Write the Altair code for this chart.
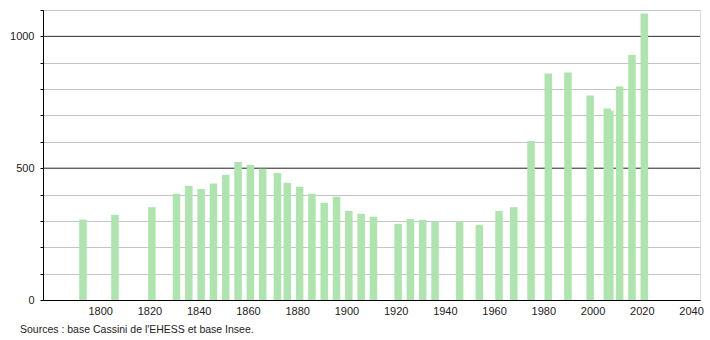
import altair as alt
import pandas as pd

years = [1793, 1806, 1821, 1831, 1836, 1841, 1846, 1851, 1856, 1861, 1866, 1872,
         1876, 1881, 1886, 1891, 1896, 1901, 1906, 1911, 1921, 1926, 1931, 1936,
         1946, 1954, 1962, 1968, 1975, 1982, 1990, 1999, 2006, 2007, 2011, 2016, 2021]
population = [305, 323, 352, 403, 433, 421, 442, 475, 523, 513, 498, 482,
              445, 430, 403, 369, 392, 338, 327, 316, 289, 307, 304, 299,
              299, 285, 338, 352, 603, 859, 863, 776, 726, 718, 810, 930, 1087]
x_ticks = list(range(1800, 2041, 20))
y_ticks = list(range(0, 1101, 100))
major_lines = [500, 1000]
source_text = ["Sources : base Cassini de l'EHESS et base Insee."]

FONT = "Liberation Sans"
BAR = "#aee4ae"

df = pd.DataFrame({"year": years, "pop": population})

x_scale = alt.Scale(domain=[1778.8, 2041.6], nice=False, zero=False)
x_axis = alt.Axis(values=x_ticks, format="d", ticks=False, grid=False,
                  domain=True, domainColor="#000", domainWidth=1, labelFont=FONT,
                  labelFontSize=11, labelColor="#222", labelPadding=5,
                  title=None, labelFlush=False, labelOverlap=False)
y_scale = alt.Scale(domain=[0, 1100], nice=False)
y_axis = alt.Axis(values=y_ticks, format="d",
                  labelExpr="datum.value % 500 == 0 ? datum.label : ''",
                  labelOverlap=False,
                  grid=True, gridColor="#c4c4c4", gridWidth=1,
                  ticks=True, tickSize=3, tickColor="#000", tickWidth=1,
                  domain=True, domainColor="#000", domainWidth=1,
                  labelFont=FONT, labelFontSize=11, labelColor="#222",
                  labelPadding=6, title=None)

bars = alt.Chart(df).mark_bar(size=7.5, color=BAR).encode(
    x=alt.X("year:Q", scale=x_scale, axis=x_axis),
    y=alt.Y("pop:Q", scale=y_scale, axis=y_axis),
)

rules = alt.Chart(pd.DataFrame({"v": major_lines})).mark_rule(
    color="#333333", strokeWidth=1
).encode(y=alt.Y("v:Q", scale=y_scale, axis=y_axis))

src = alt.Chart(pd.DataFrame({"t": source_text})).mark_text(
    align="left", baseline="middle", x=-23, y=320, font=FONT, fontSize=10.5,
    color="#222"
).encode(text="t:N")

chart = alt.layer(rules, bars, src).properties(
    width=657, height=290,
    autosize=alt.AutoSizeParams(type="none"),
    padding={"left": 43, "top": 10, "right": 10, "bottom": 40},
).configure_view(stroke=None).configure(background="white")

chart.save("out.html", embed_options={"renderer": "svg", "actions": False})
